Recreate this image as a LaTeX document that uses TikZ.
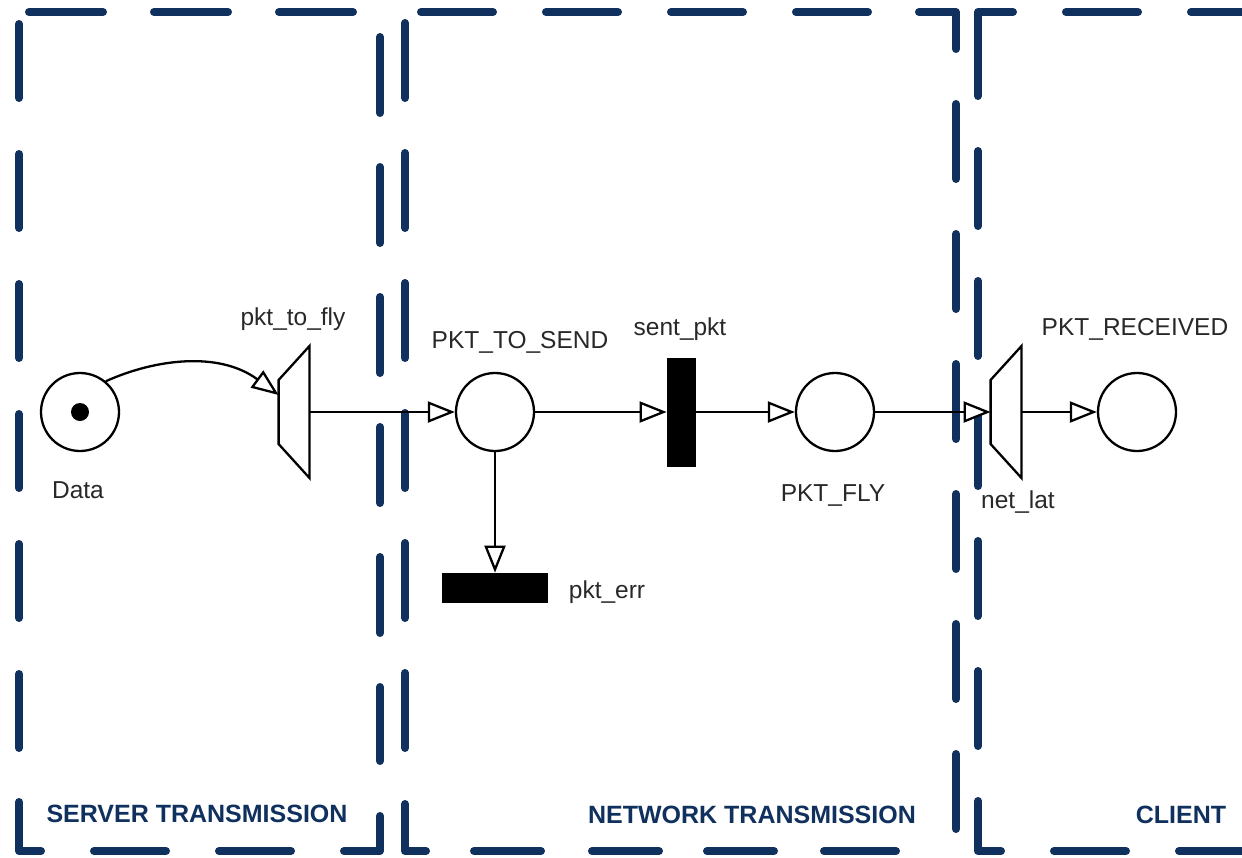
\documentclass[tikz,border=0pt]{standalone}
\usepackage{fontspec}
\setmainfont{Liberation Sans}
\usetikzlibrary{arrows.meta,calc}
\definecolor{navy}{RGB}{16,48,94}
\definecolor{lab}{RGB}{40,40,40}
\begin{document}
\begin{tikzpicture}[x=0.5pt,y=-0.5pt,
  dl/.style={navy,line width=4pt,line cap=round,line join=round},
  place/.style={circle,draw,line width=1.15pt,minimum size=39pt,inner sep=0pt,fill=white},
  tok/.style={circle,fill=black,minimum size=9pt,inner sep=0pt},
  bar/.style={rectangle,fill=black,inner sep=0pt},
  trz/.style={rectangle,inner sep=0pt,minimum width=15pt,minimum height=65.5pt},
  trzline/.style={line width=1.15pt,fill=white,line join=miter},
  arc/.style={line width=1.15pt,-{Triangle[open,length=13.5pt,width=10.5pt,fill=white]}},
  lbl/.style={font=\fontsize{12.25pt}{14pt}\selectfont,text=lab,inner sep=0pt,anchor=base},
  zone/.style={font=\bfseries\fontsize{12.5pt}{14pt}\selectfont,text=navy,inner sep=0pt,anchor=base}]

\useasboundingbox (0,0) rectangle (1242,857);

\begin{scope}
\clip (0,0) rectangle (1242,857);
% ---- box 1 : server
\foreach \a/\b in {20/102,150/232,280/362,410/492,540/622,670/752}
  \draw[dl] (19,{\a+4}) -- (19,{\b-4});
\draw[dl] (19,802) -- (19,851) -- (41,851);
\foreach \a/\b in {25/107,150/232,275/357}
  \draw[dl] ({\a+4},12) -- ({\b-4},12);
\foreach \a/\b in {90/170,215/295}
  \draw[dl] ({\a+4},851) -- ({\b-4},851);
\draw[dl] (344,851) -- (380,851) -- (380,816);
\foreach \a/\b in {33/117,163/247,293/377,423/507,553/637,683/765}
  \draw[dl] (380,{\a+4}) -- (380,{\b-4});
% ---- box 2 : network
\foreach \a/\b in {19/102,149/232,279/362,409/492,539/622,669/752}
  \draw[dl] (405,{\a+4}) -- (405,{\b-4});
\draw[dl] (405,804) -- (405,851) -- (426,851);
\foreach \a/\b in {417/497,542/622,667/747,792/872}
  \draw[dl] ({\a+4},12) -- ({\b-4},12);
\draw[dl] (919,12) -- (956,12) -- (956,49);
\foreach \a/\b in {100/183,230/313,360/443,490/573,620/703,750/833}
  \draw[dl] (956,{\a+4}) -- (956,{\b-4});
\foreach \a/\b in {470/545,588/663,703/778,820/900}
  \draw[dl] ({\a+4},851) -- ({\b-4},851);
% ---- box 3 : client
\draw[dl] (1013,12) -- (978,12) -- (978,96);
\foreach \a/\b in {147/230,277/360,407/490,537/620,667/750}
  \draw[dl] (978,{\a+4}) -- (978,{\b-4});
\draw[dl] (978,801) -- (978,851) -- (1001,851);
\foreach \a/\b in {1062/1142,1187/1267}
  \draw[dl] ({\a+4},12) -- ({\b-4},12);
\foreach \a/\b in {1050/1130,1175/1255}
  \draw[dl] ({\a+4},851) -- ({\b-4},851);
\end{scope}

% ---- Petri net
\node[place] (data) at (80,412) {};
\node[tok] (tokn) at (data.center) {};
\node[trz] (t1) at (294,412) {};
\node[place] (send) at (495,412) {};
\node[bar,minimum width=14.5pt,minimum height=54.5pt] (sent) at (681.5,412) {};
\node[place] (fly) at (835,412) {};
\node[trz] (t2) at (1006,412) {};
\node[place] (recv) at (1137,412) {};
\node[bar,minimum width=53pt,minimum height=15pt] (err) at (495,588) {};

\draw[trzline] ($(t1.west)+(0,-32)$) -- ($(t1.west)+(0,32)$) -- (t1.south east) -- (t1.north east) -- cycle;
\draw[trzline] ($(t2.west)+(0,-32)$) -- ($(t2.west)+(0,32)$) -- (t2.south east) -- (t2.north east) -- cycle;

\coordinate (t1in) at ($(t1.west)+(0,-17)$);
\draw[arc] (data.50) .. controls (155,359) and (219,351) .. (t1in);
\draw[arc] (t1.east) -- (send.west);
\draw[arc] (send.east) -- (sent.west);
\draw[arc] (sent.east) -- (fly.west);
\draw[arc] (fly.east) -- (t2.west);
\draw[arc] (t2.east) -- (recv.west);
\draw[arc] (send.south) -- (err.north);

% ---- labels
\node[lbl] (lData) at (78,498) {Data};
\node[lbl] (lt1) at (293,325) {pkt\_to\_fly};
\node[lbl] (lsend) at (520,348) {PKT\_TO\_SEND};
\node[lbl] (lsent) at (680,335) {sent\_pkt};
\node[lbl] (lfly) at (833,501) {PKT\_FLY};
\node[lbl] (lt2) at (1018,508) {net\_lat};
\node[lbl] (lrecv) at (1135,335) {PKT\_RECEIVED};
\node[lbl] (lerr) at (607,598) {pkt\_err};

\node[zone] (zs) at (197,822) {SERVER TRANSMISSION};
\node[zone] (zn) at (752,823) {NETWORK TRANSMISSION};
\node[zone] (zc) at (1181,823) {CLIENT};
\end{tikzpicture}
\end{document}
